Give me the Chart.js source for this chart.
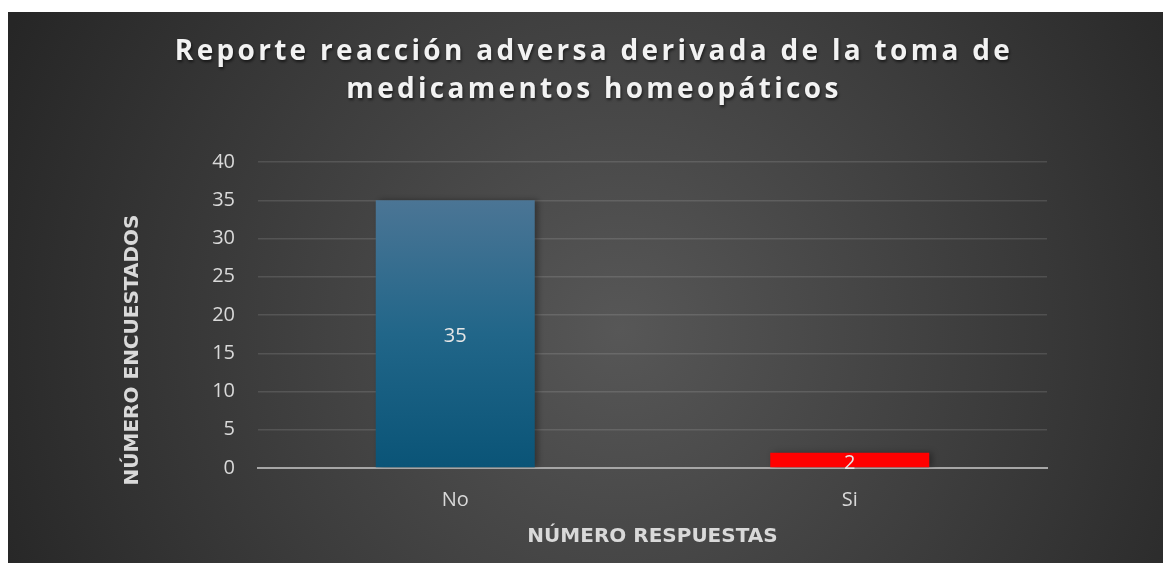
<!DOCTYPE html>
<html lang="es">
<head>
    <meta charset="UTF-8">
    <title>Reporte reacción adversa</title>
    <script src="https://cdn.jsdelivr.net/npm/chart.js"></script>
    <style>
        html, body { margin: 0; padding: 0; background: #ffffff; }
        #chartContainer { width: 1165px; height: 563px; }
    </style>
</head>
<body>
    <div id="chartContainer">
        <canvas id="chartCanvas"></canvas>
    </div>

    <script>
        // Data
        const categories = ['No', 'Si'];
        const respondents = [35, 2];
        const titleLines = ['Reporte reacción adversa derivada de la toma de', 'medicamentos homeopáticos'];
        const yTitle = 'NÚMERO ENCUESTADOS';
        const xTitle = 'NÚMERO RESPUESTAS';

        const fontFamily = '"Open Sans", Roboto, sans-serif';
        const axisTitleFamily = '"DejaVu Sans", "Open Sans", sans-serif';
        const textColor = '#d9d9d9';

        // dark panel with a soft radial light, the spaced title and the y title
        const backgroundPlugin = {
            id: 'panelBackground',
            beforeDraw(chart) {
                const ctx = chart.ctx;
                ctx.save();
                const grad = ctx.createRadialGradient(620, 330, 0, 620, 330, 680);
                grad.addColorStop(0, '#575757');
                grad.addColorStop(1, '#262626');
                ctx.fillStyle = grad;
                ctx.fillRect(8, 12, 1155, 551);

                ctx.save();
                ctx.font = 'bold 28px ' + fontFamily;
                ctx.letterSpacing = '3.3px';
                ctx.fillStyle = '#f2f2f2';
                ctx.textAlign = 'center';
                ctx.textBaseline = 'middle';
                ctx.shadowColor = 'rgba(0,0,0,0.6)';
                ctx.shadowOffsetX = 1;
                ctx.shadowOffsetY = 2;
                ctx.shadowBlur = 3;
                titleLines.forEach((line, i) => {
                    ctx.fillText(line, 594, 52 + i * 38);
                });
                ctx.restore();

                // y axis title sits a bit lower than the plot centre
                ctx.translate(133, 350);
                ctx.rotate(-Math.PI / 2);
                ctx.font = 'bold 20px ' + axisTitleFamily;
                ctx.fillStyle = textColor;
                ctx.textAlign = 'center';
                ctx.textBaseline = 'middle';
                ctx.fillText(yTitle, 0, 0);
                ctx.restore();
            }
        };

        // value labels in the middle of each bar
        const valueLabelPlugin = {
            id: 'valueLabels',
            afterDatasetsDraw(chart) {
                const ctx = chart.ctx;
                const meta = chart.getDatasetMeta(0);
                ctx.save();
                ctx.font = '20px ' + fontFamily;
                ctx.fillStyle = '#e6e6e6';
                ctx.textAlign = 'center';
                ctx.textBaseline = 'middle';
                meta.data.forEach((bar, i) => {
                    ctx.fillText(String(respondents[i]), bar.x, (bar.y + bar.base) / 2 + 3);
                });
                ctx.restore();
            }
        };

        // small shadow to the right of the bars
        const barShadowPlugin = {
            id: 'barShadow',
            beforeDatasetsDraw(chart) {
                const ctx = chart.ctx;
                ctx.save();
                ctx.shadowColor = 'rgba(0,0,0,0.35)';
                ctx.shadowOffsetX = 3;
                ctx.shadowOffsetY = 0;
                ctx.shadowBlur = 6;
            },
            afterDatasetsDraw(chart) {
                chart.ctx.restore();
            }
        };

        function barColor(context) {
            if (context.dataIndex === 1) return '#ff0000';
            const chart = context.chart;
            const y = chart.scales.y;
            if (!y || !chart.chartArea) return '#1f6388';
            const top = y.getPixelForValue(respondents[0]);
            const bottom = y.getPixelForValue(0);
            const g = chart.ctx.createLinearGradient(0, top, 0, bottom);
            g.addColorStop(0, '#4b7595');
            g.addColorStop(0.5, '#216689');
            g.addColorStop(1, '#0a5477');
            return g;
        }

        const ctx = document.getElementById('chartCanvas').getContext('2d');
        new Chart(ctx, {
            type: 'bar',
            data: {
                labels: categories,
                datasets: [{
                    label: 'Encuestados',
                    data: respondents,
                    backgroundColor: barColor,
                    borderWidth: 0,
                    categoryPercentage: 1,
                    barPercentage: 0.403
                }]
            },
            options: {
                responsive: true,
                maintainAspectRatio: false,
                animation: false,
                layout: { padding: { left: 100, right: 118, top: 162, bottom: 0 } },
                plugins: {
                    legend: { display: false },
                    title: { display: false },
                    tooltip: { enabled: false }
                },
                scales: {
                    x: {
                        grid: { display: false, drawTicks: false },
                        border: { display: true, color: '#a6a6a6', width: 2 },
                        ticks: {
                            color: textColor,
                            font: { family: fontFamily, size: 20 },
                            padding: 20
                        },
                        title: {
                            display: true,
                            text: xTitle,
                            color: textColor,
                            font: { family: axisTitleFamily, size: 20, weight: 'bold' },
                            padding: { top: 0, bottom: 14 }
                        },
                        afterFit: (scale) => { scale.height = 95; }
                    },
                    y: {
                        min: 0,
                        max: 40,
                        ticks: {
                            stepSize: 5,
                            color: textColor,
                            font: { family: fontFamily, size: 20 },
                            padding: 23
                        },
                        grid: {
                            color: 'rgba(255,255,255,0.12)',
                            lineWidth: 1.5,
                            drawTicks: false
                        },
                        border: { display: false },
                        afterFit: (scale) => { scale.width = 158; }
                    }
                }
            },
            plugins: [backgroundPlugin, barShadowPlugin, valueLabelPlugin]
        });
    </script>
</body>
</html>
